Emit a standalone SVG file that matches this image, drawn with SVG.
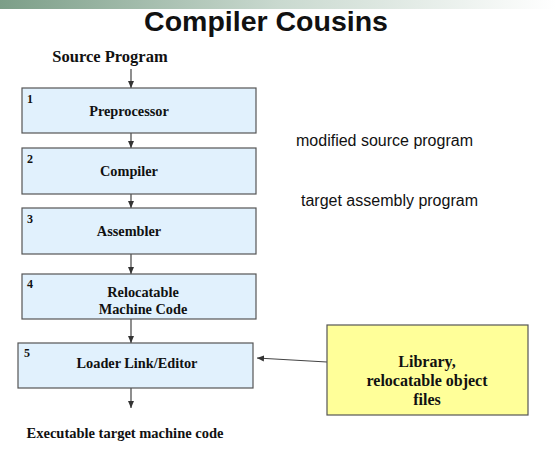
<svg xmlns="http://www.w3.org/2000/svg" width="556" height="453" viewBox="0 0 556 453">
<defs>
<linearGradient id="bar" x1="0" y1="0" x2="1" y2="0">
<stop offset="0" stop-color="#7c9e88"/>
<stop offset="0.5" stop-color="#c9d9cf"/>
<stop offset="1" stop-color="#ffffff"/>
</linearGradient>
<marker id="ah" markerWidth="8" markerHeight="8" refX="7" refY="4" orient="auto" markerUnits="userSpaceOnUse">
<path d="M0,1 L7,4 L0,7 Z" fill="#333"/>
</marker>
<style>
.box{fill:#e1f1fd;stroke:#555;stroke-width:1.2}
.lib{fill:#ffff99;stroke:#555;stroke-width:1.2}
.lbl{font-family:"Liberation Serif",serif;font-weight:bold;font-size:14.3px;fill:#111;text-anchor:middle}
.big{font-size:16px}
.num{font-family:"Liberation Serif",serif;font-weight:bold;font-size:12px;fill:#111}
.side{font-family:"Liberation Sans",sans-serif;font-size:16px;fill:#111}
.con{stroke:#444;stroke-width:1.2;fill:none;marker-end:url(#ah)}
</style>
</defs>
<rect width="556" height="453" fill="#fff"/>
<rect x="0" y="0" width="556" height="9" fill="url(#bar)"/>
<text x="266" y="31" font-family="Liberation Sans,sans-serif" font-weight="bold" font-size="28.5" text-anchor="middle" fill="#111">Compiler Cousins</text>
<text x="110" y="62" class="lbl" style="font-size:16.5px">Source Program</text>
<text x="296" y="146" class="side">modified source program</text>
<text x="301" y="206" class="side">target assembly program</text>
<text x="125" y="438" class="lbl" style="font-size:14.5px">Executable target machine code</text>
<g id="connectors">
<line x1="131" y1="69" x2="131" y2="88" class="con"/>
<line x1="131" y1="133" x2="131" y2="148" class="con"/>
<line x1="131" y1="194" x2="131" y2="208" class="con"/>
<line x1="131" y1="254" x2="131" y2="274" class="con"/>
<line x1="131" y1="319" x2="131" y2="343" class="con"/>
<line x1="131" y1="388" x2="131" y2="408" class="con"/>
<line x1="327" y1="362" x2="257" y2="358" class="con"/>
</g>
<g id="n1">
<rect x="22" y="88" width="234" height="45" class="box"/>
<text x="27" y="103" class="num">1</text>
<text x="129" y="116" class="lbl">Preprocessor</text>
</g>
<g id="n2">
<rect x="22" y="148" width="234" height="46" class="box"/>
<text x="27" y="163" class="num">2</text>
<text x="129" y="176" class="lbl">Compiler</text>
</g>
<g id="n3">
<rect x="22" y="208" width="234" height="46" class="box"/>
<text x="27" y="223" class="num">3</text>
<text x="129" y="236" class="lbl">Assembler</text>
</g>
<g id="n4">
<rect x="22" y="274" width="234" height="45" class="box"/>
<text x="27" y="288" class="num">4</text>
<text x="143" y="297" class="lbl">Relocatable</text>
<text x="143" y="314" class="lbl">Machine Code</text>
</g>
<g id="n5">
<rect x="18" y="343" width="235" height="45" class="box"/>
<text x="24" y="357" class="num">5</text>
<text x="137" y="368" class="lbl">Loader Link/Editor</text>
</g>
<g id="lib">
<rect x="327" y="325" width="201" height="90" class="lib"/>
<text x="427" y="367" class="lbl big">Library,</text>
<text x="427" y="386" class="lbl big">relocatable object</text>
<text x="427" y="405" class="lbl big">files</text>
</g>
</svg>
